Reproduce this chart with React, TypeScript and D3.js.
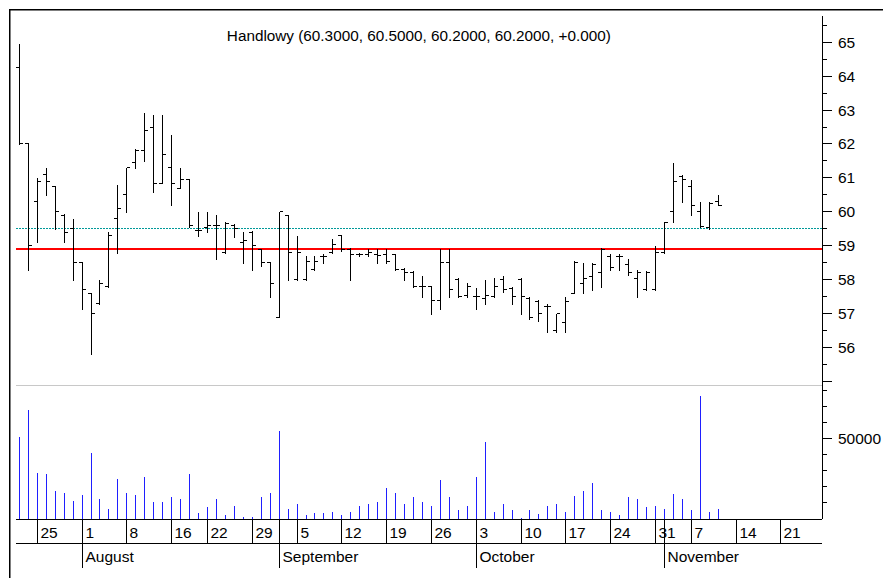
import React from "react";
import * as d3 from "d3";

// trading calendar (holidays known at the time; future days are not filtered)
const START = "2005-07-21";
const END = "2005-11-25";
const HOLIDAYS = ["2005-08-15", "2005-11-01"];

const OPEN = [64.25, 62.0, 60.3, 61.1, 60.75, 59.9, 59.5, 58.5, 57.6, 57.3, 57.8, 59.8, 60.5, 61.45, 61.8, 62.5, 60.85, 61.3, 60.7, 60.95,
  59.45, 59.55, 59.6, 58.8, 59.6, 59.1, 59.4, 58.9, 58.5, 56.9, 59.9, 58.0, 58.0, 58.3, 58.7, 58.8, 59.3, 58.9, 58.73, 58.75,
  58.75, 58.75, 58.75, 58.3, 58.2, 57.8, 57.8, 57.4, 58.5, 58.0, 57.55, 57.5, 57.45, 57.5, 58.0, 57.75, 58.0, 57.45, 57.35, 57.2,
  56.5, 56.75, 57.6, 57.9, 58.1, 58.2, 58.7, 58.7, 58.45, 58.05, 57.7, 57.7, 58.8, 60.0, 61.05, 60.75, 60.0, 59.55, 60.3];
const HIGH = [64.95, 62.0, 61.0, 61.3, 60.75, 59.95, 59.8, 58.5, 57.6, 58.0, 59.4, 60.8, 61.3, 61.85, 62.9, 62.85, 62.85, 62.25, 61.3, 60.95,
  60.0, 60.0, 59.9, 59.7, 59.65, 59.4, 59.45, 58.9, 58.5, 60.0, 59.9, 59.3, 58.7, 58.7, 58.75, 59.2, 59.3, 58.95, 58.8, 58.9,
  58.9, 58.9, 58.75, 58.35, 58.25, 58.1, 57.8, 58.9, 58.9, 58.05, 57.9, 57.75, 58.0, 58.05, 58.1, 57.8, 58.05, 57.5, 57.4, 57.3,
  57.0, 57.5, 58.55, 58.5, 58.5, 58.95, 58.75, 58.75, 58.6, 58.3, 58.25, 59.0, 59.7, 61.45, 61.1, 60.95, 60.3, 60.3, 60.5];
const LOW = [62.0, 58.3, 59.1, 60.5, 59.5, 59.1, 58.0, 57.15, 55.8, 57.3, 57.8, 58.8, 60.0, 61.3, 61.5, 60.6, 60.85, 60.2, 60.7, 59.55,
  59.3, 59.4, 58.6, 58.8, 59.25, 58.5, 58.3, 58.4, 57.5, 56.9, 58.0, 58.0, 58.0, 58.3, 58.5, 58.8, 58.85, 58.0, 58.7, 58.7,
  58.5, 58.5, 58.3, 58.0, 57.8, 57.5, 57.0, 57.15, 57.5, 57.5, 57.5, 57.15, 57.3, 57.5, 57.65, 57.3, 57.0, 56.85, 56.8, 56.45,
  56.45, 56.45, 57.6, 57.6, 57.7, 57.8, 58.3, 58.3, 58.15, 57.5, 57.7, 57.7, 58.8, 59.7, 60.3, 59.9, 59.55, 59.5, 60.2];
const CLOSE = [62.0, 59.0, 60.9, 60.9, 60.0, 59.4, 58.5, 57.7, 57.0, 57.9, 59.3, 60.1, 61.3, 61.8, 62.4, 60.85, 61.7, 60.85, 60.95, 59.6,
  59.45, 59.6, 59.6, 59.65, 59.5, 59.15, 59.0, 58.5, 57.9, 60.0, 58.8, 58.8, 58.55, 58.55, 58.7, 59.05, 58.9, 58.75, 58.73, 58.8,
  58.72, 58.55, 58.3, 58.2, 57.8, 57.8, 57.4, 58.5, 57.7, 57.5, 57.8, 57.5, 57.55, 57.8, 57.7, 57.5, 57.5, 56.9, 57.0, 57.2,
  57.0, 57.35, 58.5, 58.05, 58.45, 58.9, 58.35, 58.7, 58.2, 58.22, 58.2, 58.8, 59.7, 60.9, 60.95, 60.2, 59.57, 60.25, 60.2];
const VOLUME = [51000, 68000, 29000, 28000, 17300, 16200, 11500, 15200, 41200, 12500, 6200, 25200, 16200, 15200, 26200, 10400, 10400, 13500, 12500, 28000,
  3500, 7500, 12500, 2500, 8300, 1500, 1500, 13500, 16200, 55000, 6200, 9400, 2500, 3500, 3500, 4400, 2500, 4400, 8300, 9400,
  10400, 19400, 16200, 9400, 13500, 10400, 8300, 24400, 13500, 5400, 8300, 26200, 48100, 4400, 9400, 5400, 600, 5400, 3300, 8300,
  9400, 4400, 14400, 17300, 22300, 5400, 4400, 2500, 13500, 12500, 7500, 8300, 6500, 15400, 12500, 5400, 76900, 4400, 6500];

const WEEK_TICKS = ["2005-07-25", "2005-08-01", "2005-08-08", "2005-08-16", "2005-08-22", "2005-08-29", "2005-09-05", "2005-09-12", "2005-09-19",
  "2005-09-26", "2005-10-03", "2005-10-10", "2005-10-17", "2005-10-24", "2005-10-31", "2005-11-07", "2005-11-14", "2005-11-21"];
const MONTH_TICKS = ["2005-08-01", "2005-09-01", "2005-10-03", "2005-11-02"];
const PRICE_LABELS = [56, 57, 58, 59, 60, 61, 62, 63, 64, 65];
const VOLUME_TICKS = [10000, 20000, 30000, 40000, 50000, 60000, 70000, 80000];
const VOLUME_LABELS = [50000];
const RED_LEVEL = 58.9;
const TEAL_LEVEL = 59.53;
const TITLE = "Handlowy (60.3000, 60.5000, 60.2000, 60.2000, +0.000)";

const W = 883;
const H = 578;
const FONT = "'Liberation Sans', Arial, sans-serif";

const parse = d3.utcParse("%Y-%m-%d");
const fmt = d3.utcFormat("%Y-%m-%d");
const dayFmt = d3.utcFormat("%-d");
const monthFmt = d3.utcFormat("%B");

const calendar = d3.utcDay
  .range(parse(START)!, d3.utcDay.offset(parse(END)!, 1))
  .filter(d => d.getUTCDay() % 6 !== 0 && !HOLIDAYS.includes(fmt(d)));
const indexOf = (s: string) => calendar.findIndex(d => fmt(d) === s);

const App = () => {
  const left = 15.7, right = 822;
  const priceTop = 16, split = 385.7, base = 519, row2 = 543.3, bottom = 568.3;

  const x = d3.scaleLinear().domain([-0.35, calendar.length - 0.35]).range([left, right]);
  const y = d3.scaleLinear().domain([54.88, 65.77]).range([split, priceTop]);
  const vy = d3.scaleLinear().domain([0, 83300]).range([base, split]);
  const px = (i: number) => Math.round(x(i)) + 0.5;

  const bars = OPEN.map((o, i) => ({ o, h: HIGH[i], l: LOW[i], c: CLOSE[i], v: VOLUME[i], i }));
  const majors = d3.range(55, 66);
  const minors = d3.range(55.5, 66, 1);

  return (
    <div style={{ position: "absolute", left: 0, top: 0 }}>
      <svg width={W} height={H} style={{ display: "block", background: "#fff" }}>
        <rect x={9.75} y={9.75} width={W + 20} height={H + 20} fill="none" stroke="#000" strokeWidth={1.5} />
        <text x={(left + right) / 2} y={40.5} textAnchor="middle" fontFamily={FONT} fontSize={15.3} fill="#000">{TITLE}</text>

        <g shapeRendering="crispEdges">
          <line x1={left} x2={right} y1={split} y2={split} stroke="#c8c8c8" />
          <line x1={left} x2={right} y1={Math.round(y(TEAL_LEVEL)) + 0.5} y2={Math.round(y(TEAL_LEVEL)) + 0.5}
            stroke="#009999" strokeDasharray="2,1" />
          <line x1={left} x2={right} y1={y(RED_LEVEL)} y2={y(RED_LEVEL)} stroke="#ff0000" strokeWidth={2} />

          {bars.map(b => {
            const cx = px(b.i);
            return (
              <g key={b.i} stroke="#000">
                <line x1={cx} x2={cx} y1={y(b.h)} y2={y(b.l) + 1} />
                <line x1={cx - 3.5} x2={cx} y1={y(b.o)} y2={y(b.o)} />
                <line x1={cx} x2={cx + 3.5} y1={y(b.c)} y2={y(b.c)} />
              </g>
            );
          })}

          {bars.map(b => (
            <line key={"v" + b.i} x1={px(b.i)} x2={px(b.i)} y1={base} y2={vy(b.v)} stroke="#1f1fff" />
          ))}

          {/* right axis */}
          <line x1={right} x2={right} y1={priceTop} y2={base} stroke="#000" />
          {majors.map(v => <line key={"M" + v} x1={right} x2={right + 10} y1={y(v)} y2={y(v)} stroke="#000" />)}
          {minors.map(v => <line key={"m" + v} x1={right} x2={right + 5} y1={y(v)} y2={y(v)} stroke="#000" />)}
          {VOLUME_TICKS.map(v => (
            <line key={"vt" + v} x1={right} x2={right + (VOLUME_LABELS.includes(v) ? 10 : 5)} y1={vy(v)} y2={vy(v)} stroke="#000" />
          ))}

          {/* date axis */}
          <line x1={left} x2={right} y1={base} y2={base} stroke="#000" />
          <line x1={left} x2={right} y1={row2} y2={row2} stroke="#000" />
          {WEEK_TICKS.map(s => {
            const cx = px(indexOf(s));
            return <line key={"w" + s} x1={cx} x2={cx} y1={base} y2={row2} stroke="#000" />;
          })}
          {MONTH_TICKS.map(s => {
            const cx = px(indexOf(s));
            return <line key={"mo" + s} x1={cx} x2={cx} y1={base} y2={bottom} stroke="#000" />;
          })}
        </g>

        <g fontFamily={FONT} fontSize={15.5} fill="#000">
          {PRICE_LABELS.map(v => <text key={"pl" + v} x={838} y={y(v) + 5.5}>{v}</text>)}
          {VOLUME_LABELS.map(v => <text key={"vl" + v} x={838} y={vy(v) + 5.5}>{v}</text>)}
          {WEEK_TICKS.map(s => (
            <text key={"wl" + s} x={px(indexOf(s)) + 3} y={538.3}>{dayFmt(parse(s)!)}</text>
          ))}
          {MONTH_TICKS.map(s => (
            <text key={"ml" + s} x={px(indexOf(s)) + 3} y={562.3}>{monthFmt(parse(s)!)}</text>
          ))}
        </g>
      </svg>
    </div>
  );
};

export default App;
